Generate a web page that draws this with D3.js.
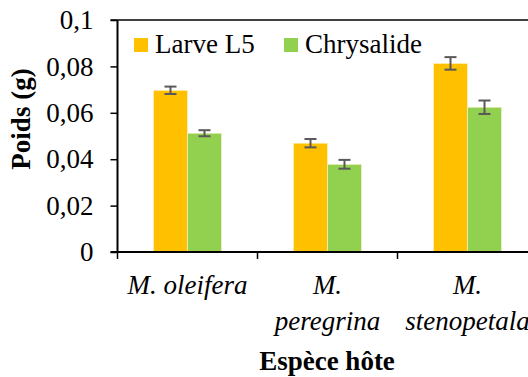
<!DOCTYPE html>
<html>
<head>
<meta charset="utf-8">
<script src="https://cdn.jsdelivr.net/npm/d3@7"></script>
<style>
  html, body { margin: 0; padding: 0; background: #fff; }
  svg { display: block; }
</style>
</head>
<body>
<div id="chart"></div>
<script>
// data
const categories = ['M. oleifera', 'M. peregrina', 'M. stenopetala'];
const catLines = [['M. oleifera'], ['M.', 'peregrina'], ['M.', 'stenopetala']];
const series = ['Larve L5', 'Chrysalide'];
const colors = ['#FFC000', '#92D050'];
const larveVals = [0.0697, 0.0469, 0.0813];
const larveErr = [0.0016, 0.0018, 0.0027];
const chrysVals = [0.0512, 0.0378, 0.0624];
const chrysErr = [0.0013, 0.0019, 0.0029];
const yTicks = [0, 0.02, 0.04, 0.06, 0.08, 0.1];
const yTickLabels = ['0', '0,02', '0,04', '0,06', '0,08', '0,1'];

const W = 528, H = 377;
const plotLeft = 117.5, plotTop = 20, plotBottom = 252;
const bandW = 140;
const FONT = "'Liberation Serif'";

const svg = d3.select('#chart').append('svg')
  .attr('width', W).attr('height', H);

const y = d3.scaleLinear().domain([0, 0.1]).range([plotBottom, plotTop]);
const x = d3.scaleBand().domain(categories)
  .range([plotLeft, plotLeft + bandW * categories.length]).padding(0);
const barW = 34;
const x1 = d3.scaleBand().domain(series).range([-barW, barW]);

const rows = categories.map((c, i) => ({
  cat: c,
  vals: [
    { s: series[0], v: larveVals[i], e: larveErr[i], c: colors[0] },
    { s: series[1], v: chrysVals[i], e: chrysErr[i], c: colors[1] }
  ]
}));

// top border line at 0.1
svg.append('line')
  .attr('x1', plotLeft - 7).attr('x2', W)
  .attr('y1', y(0.1)).attr('y2', y(0.1))
  .attr('stroke', '#000').attr('stroke-width', 1.5);

// bars
const g = svg.append('g').selectAll('g')
  .data(rows).join('g')
  .attr('transform', d => `translate(${x(d.cat) + x.bandwidth() / 2},0)`);

g.selectAll('rect')
  .data(d => d.vals).join('rect')
  .attr('x', d => x1(d.s))
  .attr('y', d => y(d.v))
  .attr('width', x1.bandwidth())
  .attr('height', d => plotBottom - y(d.v))
  .attr('fill', d => d.c)
  .attr('stroke', '#fff3d0')
  .attr('stroke-width', 0.6);

// error bars
const eb = g.selectAll('g.err')
  .data(d => d.vals).join('g').attr('class', 'err')
  .attr('stroke', '#595959').attr('stroke-width', 2);
eb.append('line')
  .attr('x1', d => x1(d.s) + x1.bandwidth() / 2)
  .attr('x2', d => x1(d.s) + x1.bandwidth() / 2)
  .attr('y1', d => y(d.v + d.e)).attr('y2', d => y(d.v - d.e));
eb.append('line')
  .attr('x1', d => x1(d.s) + x1.bandwidth() / 2 - 6)
  .attr('x2', d => x1(d.s) + x1.bandwidth() / 2 + 6)
  .attr('y1', d => y(d.v + d.e)).attr('y2', d => y(d.v + d.e));
eb.append('line')
  .attr('x1', d => x1(d.s) + x1.bandwidth() / 2 - 6)
  .attr('x2', d => x1(d.s) + x1.bandwidth() / 2 + 6)
  .attr('y1', d => y(d.v - d.e)).attr('y2', d => y(d.v - d.e));

// y axis
const yAxis = svg.append('g')
  .attr('transform', `translate(${plotLeft},0)`)
  .call(d3.axisLeft(y).tickValues(yTicks)
    .tickFormat((d, i) => yTickLabels[i]).tickSize(7).tickPadding(17));
yAxis.select('.domain').attr('stroke-width', 2).attr('d', `M0,${plotTop}V${plotBottom}`);
yAxis.selectAll('.tick line').attr('stroke-width', 1.5);
yAxis.selectAll('text')
  .attr('font-family', FONT).attr('font-size', 27).attr('fill', '#000');

// x axis
const xAxis = svg.append('g')
  .attr('transform', `translate(0,${plotBottom})`);
xAxis.append('line')
  .attr('x1', plotLeft - 7).attr('x2', W)
  .attr('stroke', '#000').attr('stroke-width', 2);
const xt = [plotLeft, plotLeft + bandW, plotLeft + 2 * bandW];
xAxis.selectAll('line.tk').data(xt).join('line').attr('class', 'tk')
  .attr('x1', d => d).attr('x2', d => d)
  .attr('y1', 0).attr('y2', 7)
  .attr('stroke', '#000').attr('stroke-width', 1.5);

// category labels
const lbl = svg.append('g').selectAll('text')
  .data(categories).join('text')
  .attr('text-anchor', 'middle')
  .attr('font-family', FONT)
  .attr('font-style', 'italic')
  .attr('font-size', 27)
  .attr('transform', d => `translate(${x(d) + x.bandwidth() / 2},294)`);
lbl.selectAll('tspan')
  .data((d, i) => catLines[i]).join('tspan')
  .attr('x', 0).attr('y', (d, i) => i * 36)
  .text(d => d);

// axis titles
svg.append('text')
  .attr('x', 327).attr('y', 370)
  .attr('text-anchor', 'middle')
  .attr('font-family', FONT)
  .attr('font-weight', 'bold').attr('font-size', 27)
  .text('Espèce hôte');
svg.append('text')
  .attr('transform', 'translate(30,119) rotate(-90)')
  .attr('text-anchor', 'middle')
  .attr('font-family', FONT)
  .attr('font-weight', 'bold').attr('font-size', 27)
  .text('Poids (g)');

// legend
const legX = [134, 284];
const leg = svg.append('g').selectAll('g')
  .data(series).join('g')
  .attr('transform', (d, i) => `translate(${legX[i]},38)`);
leg.append('rect')
  .attr('width', 14).attr('height', 14)
  .attr('fill', (d, i) => colors[i]);
leg.append('text')
  .attr('x', 21).attr('y', 15)
  .attr('font-family', FONT)
  .attr('font-size', 27)
  .text(d => d);
</script>
</body>
</html>
